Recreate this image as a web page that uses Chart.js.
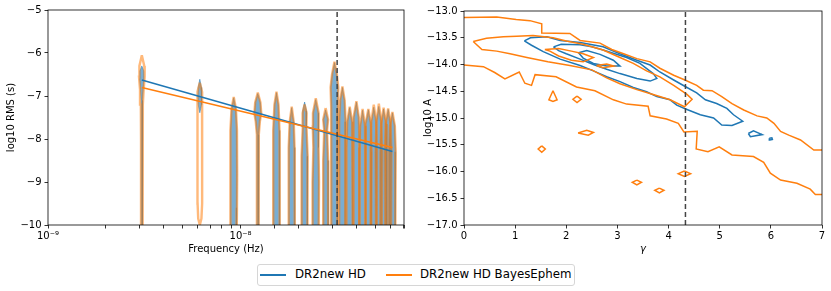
<!DOCTYPE html>
<html>
<head>
<meta charset="utf-8">
<script src="https://cdn.jsdelivr.net/npm/chart.js@4.4.1/dist/chart.umd.min.js"></script>
<style>
  body { margin: 0; background: #fff; font-family: "DejaVu Sans", sans-serif; }
  #wrap { position: relative; width: 831px; height: 291px; overflow: hidden; }
  #left { position: absolute; left: 0; top: 0; }
  #right { position: absolute; left: 420px; top: 0; }
  #legend { position: absolute; left: 257px; top: 264px; width: 316px; height: 20px;
            border: 1px solid #d6d6d6; border-radius: 3px; font-size: 11.8px; color: #000; }
  #legend span { position: absolute; top: 2px; white-space: nowrap; }
  #legend i { position: absolute; top: 9px; width: 26px; height: 2px; }
</style>
</head>
<body>
<div id="wrap">
  <canvas id="left" width="420" height="262"></canvas>
  <canvas id="right" width="411" height="262"></canvas>
  <div id="legend">
    <i style="left:2px;background:#1f77b4"></i><span style="left:37px">DR2new HD</span>
    <i style="left:128px;background:#ff7f0e"></i><span style="left:162px">DR2new HD BayesEphem</span>
  </div>
</div>
<script>
// ---- left panel: RMS per frequency bin ----
const freqs = [3.07e-9, 6.14e-9, 9.21e-9, 1.228e-8, 1.535e-8, 1.842e-8, 2.149e-8, 2.456e-8, 2.763e-8, 3.07e-8,
               3.377e-8, 3.684e-8, 3.991e-8, 4.298e-8, 4.605e-8, 4.912e-8, 5.219e-8, 5.526e-8, 5.833e-8, 6.14e-8];
const yearFreq = 3.17e-8;

// violin profiles: [log10 RMS, relative density]
const hdViolins = [
  [[-6.30,0],[-6.42,.5],[-6.6,.55],[-6.85,.35],[-7.1,.2],[-8,.17],[-10.5,.17]],
  [[-6.61,0],[-6.8,.4],[-7.0,.5],[-7.2,.4],[-7.39,0]],
  [[-7.04,0],[-7.3,.55],[-7.8,.8],[-8.8,.85],[-9.6,.8],[-10.5,.7]],
  [[-6.94,0],[-7.15,.65],[-7.4,.85],[-7.6,.5],[-7.9,.25],[-8.5,.2],[-10.5,.2]],
  [[-6.92,0],[-7.2,.5],[-7.8,.75],[-8.8,.85],[-10.5,.75]],
  [[-7.27,0],[-7.6,.5],[-8.2,.7],[-9,.8],[-10.5,.7]],
  [[-7.14,0],[-7.35,.5],[-7.7,.45],[-8.4,.75],[-10.5,.7]],
  [[-7.08,0],[-7.4,.7],[-7.7,.75],[-8.2,.6],[-9,.8],[-10.5,.7]],
  [[-7.32,0],[-7.55,.6],[-7.8,.35],[-8.5,.6],[-10.5,.65]],
  [[-6.22,0],[-6.5,.6],[-6.8,.95],[-7.3,.85],[-8,.75],[-10.5,.7]],
  [[-6.80,0],[-7.1,.55],[-7.6,.8],[-10.5,.7]],
  [[-7.27,0],[-7.6,.6],[-8.2,.8],[-10.5,.7]],
  [[-7.14,0],[-7.5,.6],[-8.2,.8],[-10.5,.7]],
  [[-7.33,0],[-7.7,.6],[-8.3,.8],[-10.5,.7]],
  [[-7.32,0],[-7.65,.6],[-8.3,.8],[-10.5,.7]],
  [[-7.26,0],[-7.6,.6],[-8.3,.8],[-10.5,.7]],
  [[-7.24,0],[-7.6,.6],[-8.3,.8],[-10.5,.7]],
  [[-7.30,0],[-7.65,.6],[-8.3,.8],[-10.5,.7]],
  [[-7.31,0],[-7.65,.6],[-8.3,.8],[-10.5,.7]],
  [[-7.39,0],[-7.7,.6],[-8.3,.8],[-10.5,.7]]
];
const beViolins = [
  [[-6.05,0],[-6.3,.6],[-6.55,.7],[-6.85,.45],[-7.2,.25],[-8,.2],[-10.5,.2]],
  [[-6.69,0],[-6.9,.55],[-7.2,.65],[-7.6,.55],[-8.5,.55],[-9.5,.55],[-9.85,.4],[-10.0,0]],
  [[-7.02,0],[-7.3,.55],[-7.8,.8],[-8.8,.85],[-9.6,.8],[-10.5,.7]],
  [[-6.92,0],[-7.15,.65],[-7.4,.85],[-7.6,.5],[-7.9,.25],[-8.5,.2],[-10.5,.2]],
  [[-6.90,0],[-7.2,.5],[-7.8,.75],[-8.8,.85],[-10.5,.75]],
  [[-7.25,0],[-7.6,.5],[-8.2,.7],[-9,.8],[-10.5,.7]],
  [[-7.20,0],[-7.4,.5],[-7.7,.45],[-8.4,.75],[-10.5,.7]],
  [[-7.05,0],[-7.4,.7],[-7.7,.75],[-8.2,.6],[-9,.8],[-10.5,.7]],
  [[-7.28,0],[-7.55,.6],[-7.8,.35],[-8.5,.6],[-10.5,.65]],
  [[-6.20,0],[-6.5,.6],[-6.8,.95],[-7.3,.85],[-8,.75],[-10.5,.7]],
  [[-6.78,0],[-7.1,.55],[-7.6,.8],[-10.5,.7]],
  [[-7.25,0],[-7.6,.6],[-8.2,.8],[-10.5,.7]],
  [[-7.12,0],[-7.5,.6],[-8.2,.8],[-10.5,.7]],
  [[-7.30,0],[-7.7,.6],[-8.3,.8],[-10.5,.7]],
  [[-7.30,0],[-7.65,.6],[-8.3,.8],[-10.5,.7]],
  [[-7.20,0],[-7.6,.6],[-8.3,.8],[-10.5,.7]],
  [[-7.18,0],[-7.6,.6],[-8.3,.8],[-10.5,.7]],
  [[-7.27,0],[-7.65,.6],[-8.3,.8],[-10.5,.7]],
  [[-7.29,0],[-7.65,.6],[-8.3,.8],[-10.5,.7]],
  [[-7.37,0],[-7.7,.6],[-8.3,.8],[-10.5,.7]]
];

// power-law fits at the first and last bin
const lineFreqs = [3.07e-9, 6.14e-8];
const hdLine = [-6.63, -8.29];
const beLine = [-6.80, -8.20];

// ---- right panel: gamma vs log10 A contours ----
const hdOuter = [[1.18,-13.56],[1.3,-13.5],[1.62,-13.48],[1.88,-13.55],[2.27,-13.59],[2.72,-13.67],[3.05,-13.8],[3.38,-13.92],[3.64,-14.01],[3.83,-14.14],[4.1,-14.29],[4.36,-14.43],[4.55,-14.53],[4.72,-14.66],[4.94,-14.73],[5.14,-14.82],[5.27,-14.94],[5.45,-15.06],[5.24,-15.14],[5.04,-15.13],[4.88,-15.0],[4.62,-14.94],[4.36,-14.84],[4.16,-14.76],[4.03,-14.66],[3.77,-14.6],[3.57,-14.51],[3.31,-14.43],[3.05,-14.32],[2.79,-14.23],[2.53,-14.12],[2.27,-14.02],[1.88,-13.9],[1.55,-13.76],[1.32,-13.64],[1.18,-13.56]];
const hdMid = [[1.75,-13.67],[1.9,-13.62],[2.27,-13.63],[2.5,-13.67],[2.72,-13.73],[2.95,-13.8],[3.18,-13.87],[3.44,-13.98],[3.7,-14.17],[3.77,-14.26],[3.64,-14.31],[3.38,-14.26],[3.05,-14.17],[2.79,-14.09],[2.53,-14.0],[2.27,-13.9],[2.0,-13.8],[1.85,-13.74],[1.75,-13.67]];
const hdInner = [[2.24,-13.78],[2.4,-13.74],[2.66,-13.81],[2.92,-13.92],[3.05,-14.03],[2.79,-14.03],[2.53,-13.98],[2.33,-13.88],[2.24,-13.78]];
const hdIsland = [[5.56,-15.29],[5.66,-15.24],[5.83,-15.31],[5.6,-15.35],[5.56,-15.29]];
const hdDot = [[5.97,-15.38],[6.02,-15.37],[6.03,-15.4],[5.98,-15.41],[5.97,-15.38]];

const beOuterUpper = [[0,-13.12],[0.64,-13.11],[1.02,-13.16],[1.29,-13.18],[1.52,-13.24],[1.52,-13.41],[2.07,-13.42],[2.27,-13.55],[2.66,-13.6],[2.89,-13.72],[3.12,-13.8],[3.38,-13.89],[3.64,-13.95],[3.83,-14.07],[4.1,-14.2],[4.32,-14.29],[4.55,-14.39],[4.68,-14.48],[4.85,-14.49],[5.04,-14.6],[5.24,-14.73],[5.47,-14.85],[5.73,-14.96],[5.92,-15.0],[6.06,-15.1],[6.19,-15.25],[6.35,-15.32],[6.58,-15.41],[6.84,-15.6],[7,-15.6]];
const beOuterLower = [[0,-14.01],[0.38,-14.04],[0.6,-14.15],[0.8,-14.27],[1.08,-14.14],[1.19,-14.35],[1.32,-14.39],[1.39,-14.19],[1.8,-14.23],[2.2,-14.42],[2.56,-14.49],[2.92,-14.66],[3.18,-14.74],[3.6,-14.78],[3.64,-14.96],[3.96,-15.02],[4.19,-15.1],[4.3,-15.26],[4.56,-15.25],[4.54,-15.58],[4.77,-15.63],[4.99,-15.54],[5.24,-15.69],[5.66,-15.72],[5.86,-15.83],[5.99,-16.03],[6.19,-16.16],[6.51,-16.22],[6.77,-16.33],[6.87,-16.43],[7,-16.43]];
const beMid = [[0.18,-13.57],[0.44,-13.51],[0.77,-13.48],[1.03,-13.47],[1.35,-13.46],[1.74,-13.5],[2.0,-13.56],[2.33,-13.62],[2.72,-13.73],[3.05,-13.87],[3.31,-13.98],[3.57,-14.12],[3.83,-14.23],[4.1,-14.39],[4.36,-14.56],[4.46,-14.65],[4.31,-14.79],[4.03,-14.66],[3.7,-14.56],[3.38,-14.47],[3.05,-14.36],[2.79,-14.25],[2.5,-14.1],[2.07,-14.02],[1.64,-13.95],[1.23,-13.87],[0.9,-13.8],[0.64,-13.75],[0.35,-13.72],[0.18,-13.57]];
const beInner = [[1.58,-13.72],[1.85,-13.7],[2.1,-13.75],[2.33,-13.8],[2.53,-13.87],[2.33,-13.95],[2.1,-13.92],[1.85,-13.84],[1.68,-13.75],[1.58,-13.72]];
const beLens = [[2.59,-14.02],[2.79,-13.99],[2.93,-14.03],[2.72,-14.06],[2.59,-14.02]];
const beIslands = [
  [[1.74,-14.49],[1.82,-14.66],[1.74,-14.69],[1.66,-14.66],[1.74,-14.49]],
  [[2.21,-14.59],[2.29,-14.65],[2.21,-14.71],[2.13,-14.65],[2.21,-14.59]],
  [[2.23,-15.28],[2.4,-15.23],[2.53,-15.27],[2.43,-15.32],[2.23,-15.28]],
  [[1.52,-15.52],[1.59,-15.58],[1.52,-15.64],[1.45,-15.58],[1.52,-15.52]],
  [[4.31,-15.99],[4.43,-16.04],[4.31,-16.09],[4.19,-16.04],[4.31,-15.99]],
  [[3.38,-16.16],[3.47,-16.2],[3.38,-16.25],[3.29,-16.2],[3.38,-16.16]],
  [[3.82,-16.31],[3.91,-16.35],[3.82,-16.4],[3.73,-16.35],[3.82,-16.31]]
];
const gammaGW = 4.33;

const BLUE = "#1f77b4", ORANGE = "#ff7f0e";
const font = { family: "DejaVu Sans", size: 10 };
const minus = v => (v < 0 ? "\u2212" : "") + Math.abs(v);

// box around the plot area, like matplotlib spines
const frame = {
  id: "frame",
  afterDatasetsDraw(chart) {
    let a = chart.chartArea, ctx = chart.ctx;
    ctx.save();
    ctx.strokeStyle = "#000";
    ctx.lineWidth = 0.8;
    ctx.strokeRect(a.left, a.top, a.right - a.left, a.bottom - a.top);
    ctx.restore();
  }
};

const violinWidth = 0.021; // decades of frequency for density 1

function violinShape(f, profile) {
  let right = profile.map(p => ({ x: f * Math.pow(10, p[1] * violinWidth), y: p[0] }));
  let left = profile.slice().reverse().map(p => ({ x: f * Math.pow(10, -p[1] * violinWidth), y: p[0] }));
  return right.concat(left);
}

const toXY = pts => pts.map(p => ({ x: p[0], y: p[1] }));

function axisGrid() {
  return { drawOnChartArea: false, drawTicks: true, tickLength: 3.5, color: "#000", tickColor: "#000", lineWidth: 0.8 };
}

// left chart datasets
let leftSets = [];
hdViolins.forEach((p, i) => {
  leftSets.push({ data: violinShape(freqs[i], p), fill: "shape", backgroundColor: "rgba(31,119,180,0.6)",
                  borderColor: "rgba(31,119,180,0.5)", borderWidth: 1, pointRadius: 0, order: 4 });
});
beViolins.forEach((p, i) => {
  leftSets.push({ data: violinShape(freqs[i], p), fill: false,
                  borderColor: "rgba(255,127,14,0.55)", borderWidth: 2.4, pointRadius: 0, order: 3 });
});
leftSets.push({ data: lineFreqs.map((f, i) => ({ x: f, y: hdLine[i] })), borderColor: BLUE, borderWidth: 1.5, pointRadius: 0, order: 2 });
leftSets.push({ data: lineFreqs.map((f, i) => ({ x: f, y: beLine[i] })), borderColor: ORANGE, borderWidth: 1.5, pointRadius: 0, order: 1 });
leftSets.push({ data: [{ x: yearFreq, y: -10 }, { x: yearFreq, y: -5 }], borderColor: "#444", borderWidth: 1.5,
                borderDash: [5, 3], pointRadius: 0, order: 0 });

const sup = { "-9": "\u207B\u2079", "-8": "\u207B\u2078", "-7": "\u207B\u2077" };

new Chart(document.getElementById("left"), {
  type: "line",
  data: { datasets: leftSets },
  options: {
    responsive: false, animation: false, devicePixelRatio: 1,
    layout: { padding: { left: 0, right: 16, top: 10, bottom: 0 } },
    plugins: { legend: { display: false }, tooltip: { enabled: false } },
    events: [],
    scales: {
      x: {
        type: "logarithmic", min: 1e-9, max: 7.05e-8,
        grid: axisGrid(), border: { display: false },
        ticks: {
          font: font, color: "#000", padding: 2, autoSkip: false, maxRotation: 0,
          callback: v => {
            let e = Math.log10(v);
            return Math.abs(e - Math.round(e)) < 1e-6 ? "10" + sup[Math.round(e)] : "";
          }
        },
        title: { display: true, text: "Frequency (Hz)", font: font, color: "#000", padding: { top: 0, bottom: 7 } },
        afterFit: s => { s.height = 37; }
      },
      y: {
        min: -10, max: -5,
        grid: axisGrid(), border: { display: false },
        ticks: { stepSize: 1, font: font, color: "#000", padding: 3, callback: minus },
        title: { display: true, text: "log10 RMS (s)", font: font, color: "#000", padding: { top: 5, bottom: 4 } },
        afterFit: s => { s.width = 48; }
      }
    }
  },
  plugins: [frame]
});

// right chart datasets
let rightSets = [];
function contour(pts, color) {
  rightSets.push({ data: toXY(pts), borderColor: color, borderWidth: 1.5, pointRadius: 0, fill: false });
}
[beOuterUpper, beOuterLower, beMid, beInner, beLens].concat(beIslands).forEach(c => contour(c, ORANGE));
[hdOuter, hdMid, hdInner, hdIsland, hdDot].forEach(c => contour(c, BLUE));
rightSets.unshift({ data: [{ x: gammaGW, y: -17 }, { x: gammaGW, y: -13 }], borderColor: "#444", borderWidth: 1.5,
                    borderDash: [5, 3], pointRadius: 0 });

new Chart(document.getElementById("right"), {
  type: "line",
  data: { datasets: rightSets },
  options: {
    responsive: false, animation: false, devicePixelRatio: 1,
    layout: { padding: { left: 0, right: 9, top: 11, bottom: 0 } },
    plugins: { legend: { display: false }, tooltip: { enabled: false } },
    events: [],
    scales: {
      x: {
        type: "linear", min: 0, max: 7,
        grid: axisGrid(), border: { display: false },
        ticks: { stepSize: 1, font: font, color: "#000", padding: 2, maxRotation: 0 },
        title: { display: true, text: "\u03B3", font: { family: "DejaVu Sans", size: 10, style: "italic" }, color: "#000", padding: { top: 0, bottom: 7 } },
        afterFit: s => { s.height = 37; }
      },
      y: {
        min: -17, max: -13,
        grid: axisGrid(), border: { display: false },
        ticks: { stepSize: 0.5, font: font, color: "#000", padding: 3, callback: v => "\u2212" + Math.abs(v).toFixed(1) },
        title: { display: true, text: "log10 A", font: font, color: "#000", padding: { top: 2, bottom: 4 } },
        afterFit: s => { s.width = 44; }
      }
    }
  },
  plugins: [frame]
});
</script>
</body>
</html>
